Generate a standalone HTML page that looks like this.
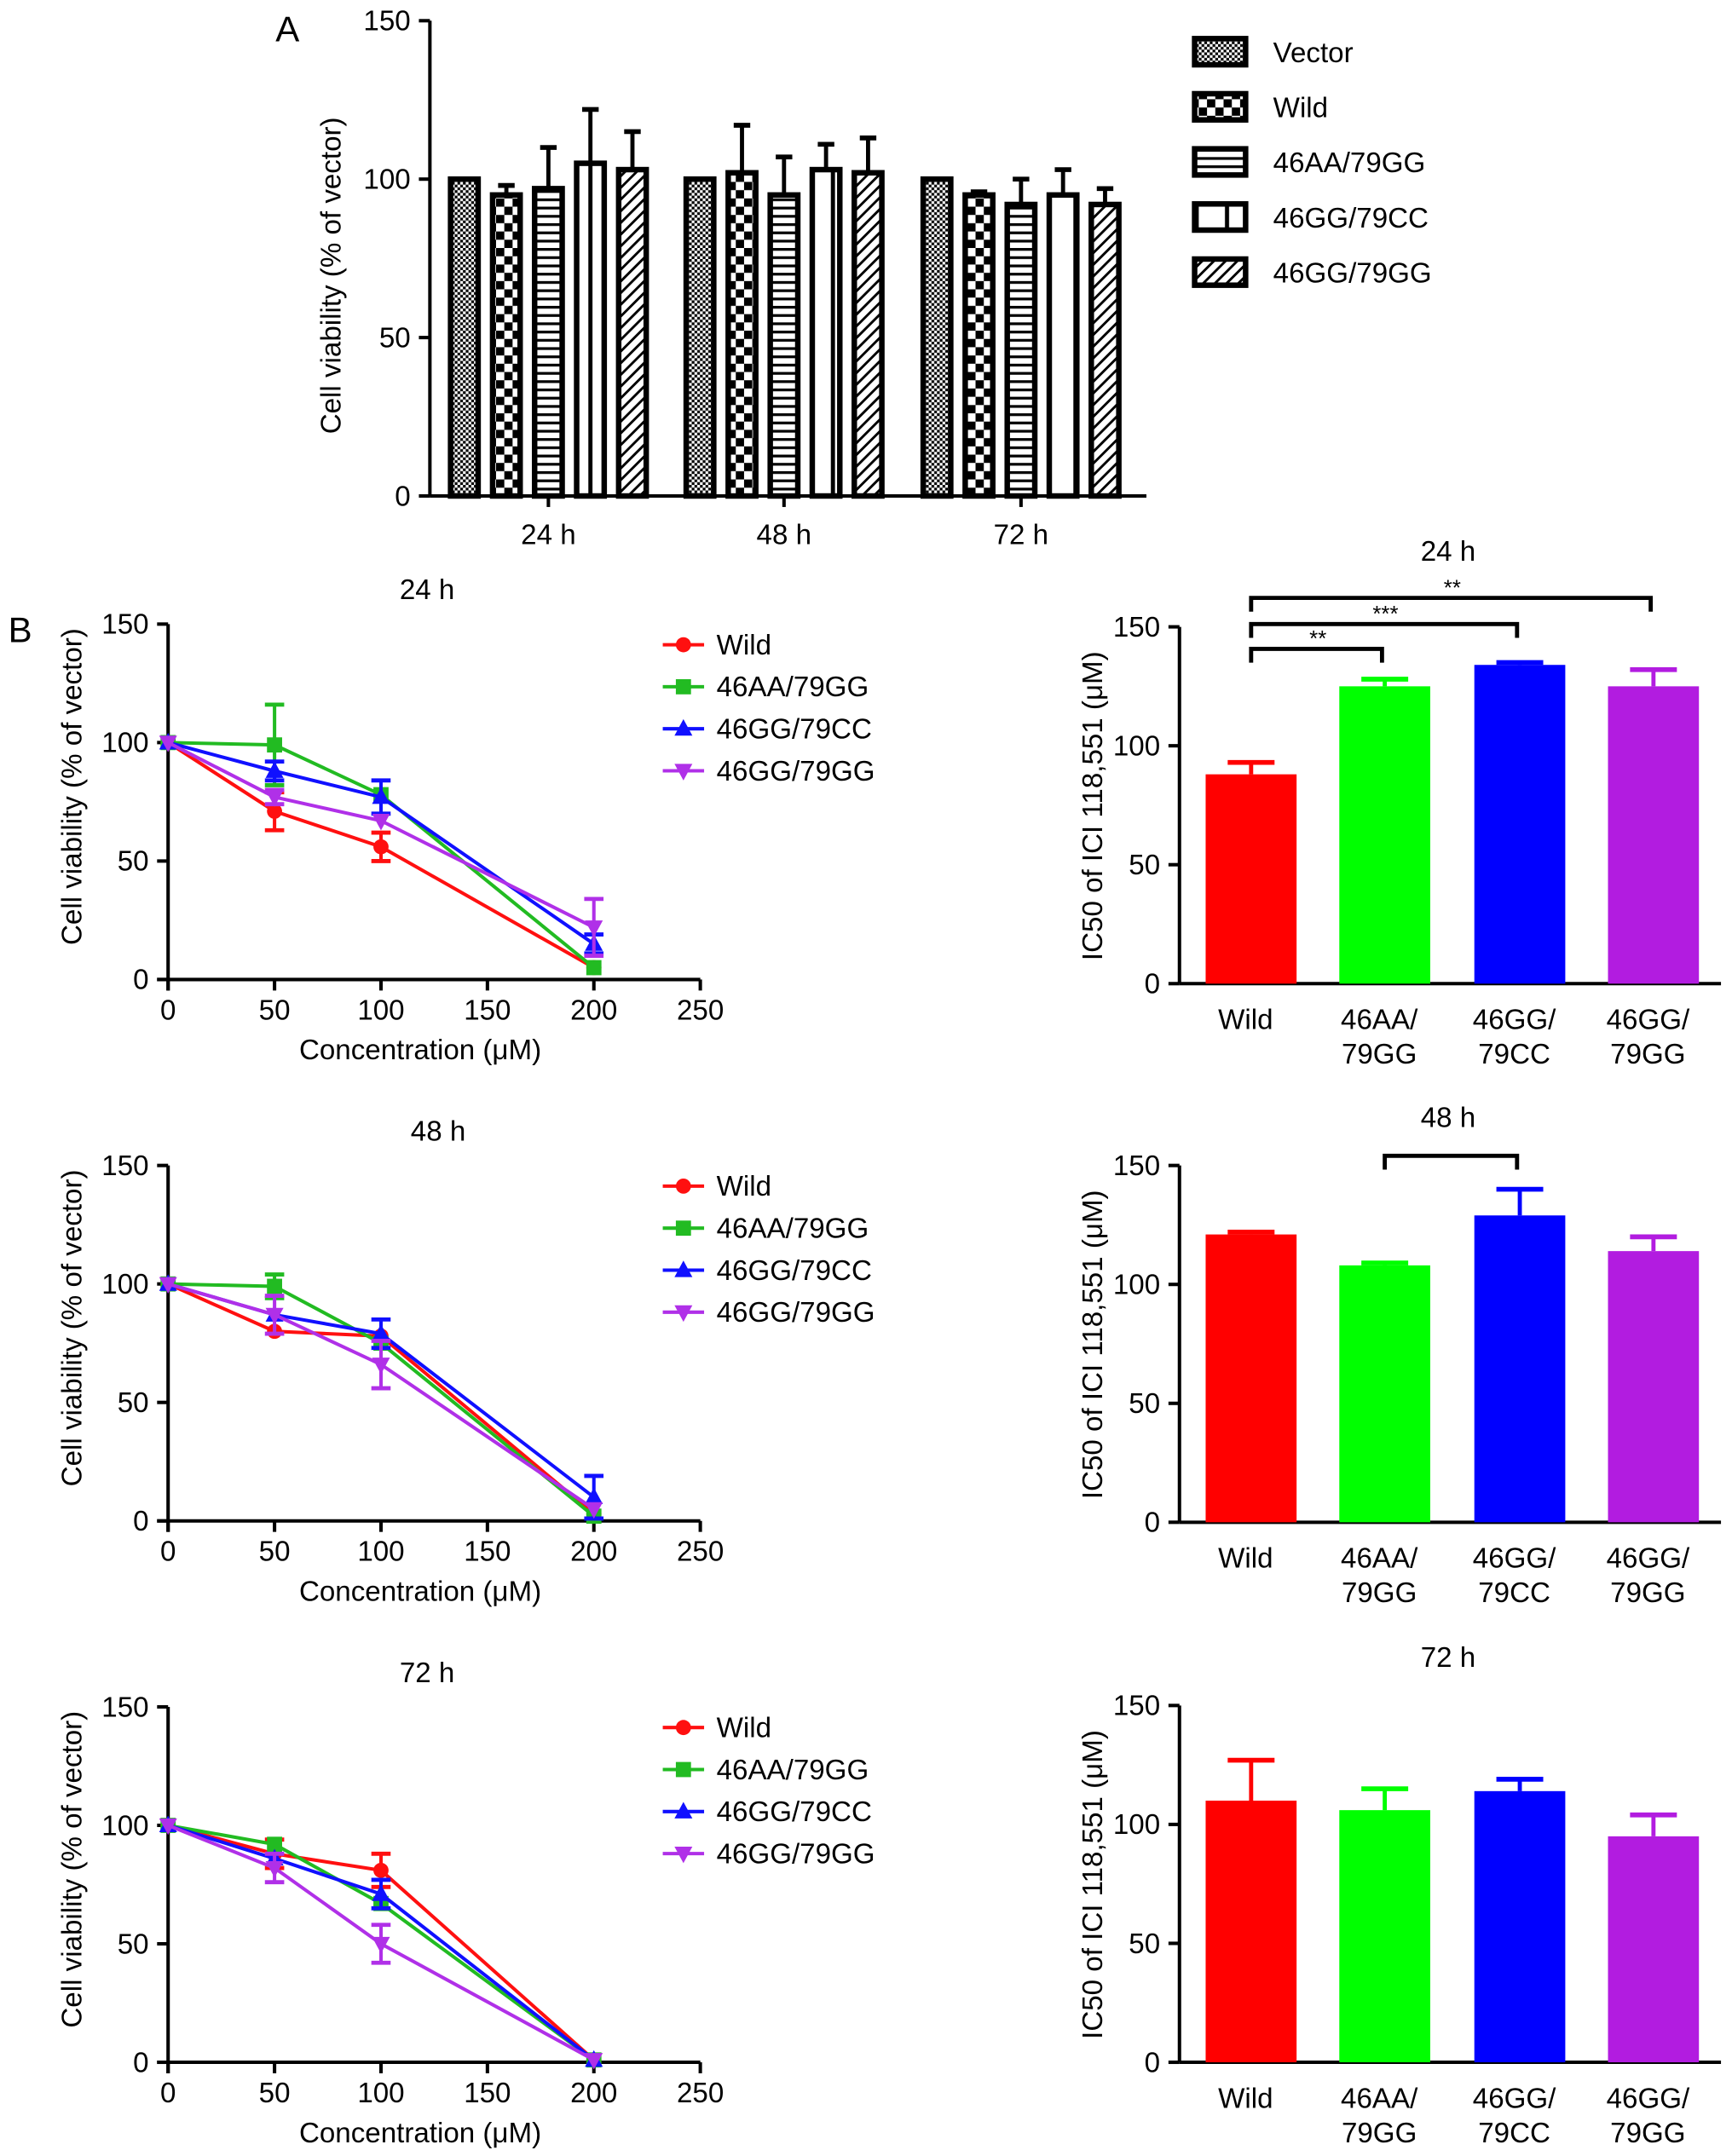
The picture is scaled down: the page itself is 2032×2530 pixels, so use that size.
<!DOCTYPE html>
<html><head><meta charset="utf-8"><style>
html,body{margin:0;padding:0;background:#fff}
svg{display:block}
text{font-family:"Liberation Sans",Arial,sans-serif;fill:#000}
</style></head><body>
<svg id="fig" width="2032" height="2530" viewBox="0 0 1257 1565" xmlns="http://www.w3.org/2000/svg">
<defs>
<pattern id="p0" width="4" height="4" patternUnits="userSpaceOnUse"><rect width="4" height="4" fill="#fff"/><rect width="2" height="2" fill="#000"/><rect x="2" y="2" width="2" height="2" fill="#000"/></pattern>
<pattern id="p1" width="12" height="12" patternUnits="userSpaceOnUse"><rect width="12" height="12" fill="#fff"/><rect x="0" y="0" width="6" height="6" fill="#000"/><rect x="6" y="6" width="6" height="6" fill="#000"/></pattern>
<pattern id="p2" width="6" height="6" patternUnits="userSpaceOnUse"><rect width="6" height="6" fill="#fff"/><rect y="0" width="6" height="2" fill="#000"/></pattern>
<pattern id="p3" width="22" height="6" patternUnits="userSpaceOnUse"><rect width="22" height="6" fill="#fff"/><rect x="9" width="3" height="6" fill="#000"/></pattern>
<pattern id="p4" width="6" height="6" patternUnits="userSpaceOnUse" patternTransform="rotate(45)"><rect width="6" height="6" fill="#fff"/><rect width="1.8" height="6" fill="#000"/></pattern>
</defs>
<g id="root"></g>
</svg>
<script>
// ---------- Panel A data ----------
const aGroups = ["24 h","48 h","72 h"];
const aSeries = ["Vector","Wild","46AA/79GG","46GG/79CC","46GG/79GG"];
const aValues = [[100,95,97,105,103],[100,102,95,103,102],[100,95,92,95,92]];
const aErrors = [[0,3,13,17,12],[0,15,12,8,11],[0,1,8,8,5]];
const aTicks = [0,50,100,150];
// ---------- Panel B line data ----------
const concs = [0,50,100,200];
const lineSeries = ["Wild","46AA/79GG","46GG/79CC","46GG/79GG"];
const lineColors = ["#ff1010","#22bb22","#1010ff","#b030e8"];
const line24 = [[100,71,56,5],[100,99,78,5],[100,88,77,15],[100,77,67,22]];
const err24 = [[0,8,6,0],[0,17,0,0],[0,4,7,4],[0,3,0,12]];
const line48 = [[100,80,78,3],[100,99,75,2],[100,87,79,10],[100,87,66,5]];
const err48 = [[0,0,0,0],[0,5,0,0],[0,0,6,9],[0,8,10,0]];
const line72 = [[100,88,81,1],[100,92,67,1],[100,86,71,1],[100,82,50,1]];
const err72 = [[0,6,7,0],[0,0,0,0],[0,0,6,0],[0,6,8,0]];
const xTicks = [0,50,100,150,200,250];
const yTicks = [0,50,100,150];
// ---------- Panel B bar data ----------
const barCats = [["Wild"],["46AA/","79GG"],["46GG/","79CC"],["46GG/","79GG"]];
const barColors = ["#ff0000","#00ff00","#0000ff","#b21ce0"];
const ic24 = [88,125,134,125];
const icErr24 = [5,3,1,7];
const ic48 = [121,108,129,114];
const icErr48 = [1,1,11,6];
const ic72 = [110,106,114,95];
const icErr72 = [17,9,5,9];

const FS=20.5;
const NS="http://www.w3.org/2000/svg";
const root=document.getElementById('root');
function el(tag,attrs,parent,txt){const e=document.createElementNS(NS,tag);for(const k in attrs)e.setAttribute(k,attrs[k]);if(txt!==undefined)e.textContent=txt;(parent||root).appendChild(e);return e;}

// ---------- Panel A ----------
(function(){
  const g=el('g',{});
  
  
  const x0=312,x1=832,yb=360,yt=15;
  const ys=v=>yb-(v/150)*(yb-yt);
  const t=el('text',{x:200,y:30,'font-size':26},g,'A');
  
  el('line',{x1:x0,y1:yt,x2:x0,y2:yb,stroke:'#000','stroke-width':2.5},g);
  el('line',{x1:x0,y1:yb,x2:x1,y2:yb,stroke:'#000','stroke-width':2.5},g);
  aTicks.forEach(v=>{
    el('line',{x1:x0-8,y1:ys(v),x2:x0,y2:ys(v),stroke:'#000','stroke-width':2.5},g);
    const tt=el('text',{x:x0-14,y:ys(v)+7,'font-size':FS,'text-anchor':'end'},g,String(v));
    
  });
  const yt2=el('text',{x:0,y:0,'font-size':FS,'text-anchor':'middle',transform:'translate(247,200) rotate(-90)'},g,'Cell viability (% of vector)');
  
  const gc=[398,569,741],sp=30.5,bw=20;
  aGroups.forEach((gn,gi)=>{
    el('line',{x1:gc[gi],y1:yb,x2:gc[gi],y2:yb+8,stroke:'#000','stroke-width':2.5},g);
    const tx=el('text',{x:gc[gi],y:395,'font-size':FS,'text-anchor':'middle'},g,gn);
    
    aValues[gi].forEach((v,si)=>{
      const cx=gc[gi]+(si-2)*sp;
      if(aErrors[gi][si]>0){
        el('line',{x1:cx,y1:ys(v),x2:cx,y2:ys(v+aErrors[gi][si]),stroke:'#000','stroke-width':3},g);
        el('line',{x1:cx-6,y1:ys(v+aErrors[gi][si]),x2:cx+6,y2:ys(v+aErrors[gi][si]),stroke:'#000','stroke-width':3.5},g);
      }
      const r=el('rect',{x:cx-bw/2,y:ys(v),width:bw,height:yb-ys(v),fill:'url(#p'+si+')',stroke:'#000','stroke-width':4},g);
      
      
    });
  });
  aSeries.forEach((s,i)=>{
    const y=38+i*40;
    const r=el('rect',{x:867,y:y-10,width:37,height:19,fill:'url(#p'+i+')',stroke:'#000','stroke-width':4},g);
    
    const tx=el('text',{x:924,y:y+7,'font-size':FS},g,s);
    
  });
})();

const bl=el('text',{x:6,y:466,'font-size':26});

bl.textContent='B';

// ---------- Line charts ----------
function marker(g,k,x,y,c){
  let m;
  if(k===0)m=el('circle',{cx:x,cy:y,r:5.5,fill:c},g);
  else if(k===1)m=el('rect',{x:x-5.5,y:y-5.5,width:11,height:11,fill:c},g);
  else if(k===2)m=el('polygon',{points:`${x},${y-7} ${x-6.5},${y+5} ${x+6.5},${y+5}`,fill:c},g);
  else m=el('polygon',{points:`${x},${y+7} ${x-6.5},${y-5} ${x+6.5},${y-5}`,fill:c},g);
  
}
function lineChart(title,ytop,vals,errs,titleX){
  const g=el('g',{});
  
  
  const x0=122,yb=ytop+258;
  const xs=v=>x0+v*1.545, ys=v=>yb-v/150*258;
  const tt=el('text',{x:titleX,y:ytop-18,'font-size':FS,'text-anchor':'middle'},g,title);
  
  el('line',{x1:x0,y1:ytop,x2:x0,y2:yb+8,stroke:'#000','stroke-width':2.5},g);
  el('line',{x1:x0-8,y1:yb,x2:xs(250),y2:yb,stroke:'#000','stroke-width':2.5},g);
  yTicks.forEach(v=>{
    el('line',{x1:x0-8,y1:ys(v),x2:x0,y2:ys(v),stroke:'#000','stroke-width':2.5},g);
    const t=el('text',{x:x0-14,y:ys(v)+7,'font-size':FS,'text-anchor':'end'},g,String(v));
    
  });
  xTicks.forEach(v=>{
    el('line',{x1:xs(v),y1:yb,x2:xs(v),y2:yb+8,stroke:'#000','stroke-width':2.5},g);
    const t=el('text',{x:xs(v),y:yb+29,'font-size':FS,'text-anchor':'middle'},g,String(v));
    
  });
  const xt=el('text',{x:305,y:yb+58,'font-size':FS,'text-anchor':'middle'},g,'Concentration (\u03bcM)');
  
  const yt=el('text',{x:0,y:0,'font-size':FS,'text-anchor':'middle',transform:`translate(59,${ytop+118}) rotate(-90)`},g,'Cell viability (% of vector)');
  
  vals.forEach((s,si)=>{
    const c=lineColors[si];
    const p=el('polyline',{points:s.map((v,i)=>xs(concs[i])+','+ys(v)).join(' '),fill:'none',stroke:c,'stroke-width':2.5},g);
    
    
    s.forEach((v,i)=>{
      const e=errs[si][i],x=xs(concs[i]);
      if(e>0){
        el('line',{x1:x,y1:ys(v-e),x2:x,y2:ys(v+e),stroke:c,'stroke-width':2.5},g);
        el('line',{x1:x-7,y1:ys(v+e),x2:x+7,y2:ys(v+e),stroke:c,'stroke-width':3},g);
        el('line',{x1:x-7,y1:ys(v-e),x2:x+7,y2:ys(v-e),stroke:c,'stroke-width':3},g);
      }
      marker(g,si,x,ys(v),c);
    });
  });
  lineSeries.forEach((s,i)=>{
    const y=ytop+15+i*30.5;
    el('line',{x1:481,y1:y,x2:511,y2:y,stroke:lineColors[i],'stroke-width':2.5},g);
    marker(g,i,496,y,lineColors[i]);
    const t=el('text',{x:520,y:y+7,'font-size':FS},g,s);
    
  });
}
lineChart('24 h',453,line24,err24,310);
lineChart('48 h',846,line48,err48,318);
lineChart('72 h',1239,line72,err72,310);

// ---------- Bar charts ----------
function barChart(title,ytop,vals,errs,brackets){
  const g=el('g',{});
  
  
  const x0=856,yb=ytop+259;
  const ys=v=>yb-v/150*259;
  const cx=[908,1005,1103,1200],bw=66;
  const tt=el('text',{x:1051,y:title==='24 h'?407:ytop-28,'font-size':FS,'text-anchor':'middle'},g,title);
  
  el('line',{x1:x0,y1:ytop,x2:x0,y2:yb,stroke:'#000','stroke-width':2.5},g);
  el('line',{x1:x0,y1:yb,x2:1249,y2:yb,stroke:'#000','stroke-width':2.5},g);
  yTicks.forEach(v=>{
    el('line',{x1:x0-8,y1:ys(v),x2:x0,y2:ys(v),stroke:'#000','stroke-width':2.5},g);
    const t=el('text',{x:x0-14,y:ys(v)+7,'font-size':FS,'text-anchor':'end'},g,String(v));
    
  });
  const yt=el('text',{x:0,y:0,'font-size':FS,'text-anchor':'middle',transform:`translate(800,${ytop+130}) rotate(-90)`},g,'IC50 of ICI 118,551 (\u03bcM)');
  
  vals.forEach((v,i)=>{
    const c=barColors[i],e=errs[i];
    el('line',{x1:cx[i],y1:ys(v),x2:cx[i],y2:ys(v+e),stroke:c,'stroke-width':3},g);
    el('line',{x1:cx[i]-17,y1:ys(v+e),x2:cx[i]+17,y2:ys(v+e),stroke:c,'stroke-width':3.5},g);
    const r=el('rect',{x:cx[i]-bw/2,y:ys(v),width:bw,height:yb-ys(v),fill:c},g);
    
    
    barCats[i].forEach((l,j)=>{
      const t=el('text',{x:cx[i]-4,y:yb+33+j*25,'font-size':FS,'text-anchor':'middle'},g,l);
      
    });
  });
  brackets.forEach(b=>{
    const p=el('path',{d:`M${cx[b[0]]},${b[2]+10} V${b[2]} H${cx[b[1]]-2} V${b[2]+10}`,fill:'none',stroke:'#000','stroke-width':3},g);
    
    if(b[3]){const t=el('text',{x:(cx[b[0]]+cx[b[1]])/2,y:b[2]-2,'font-size':16,'text-anchor':'middle'},g,b[3]);
      }
  });
}
barChart('24 h',455,ic24,icErr24,[[0,1,471,'**'],[0,2,453,'***'],[0,3,434,'**']]);
barChart('48 h',846,ic48,icErr48,[[1,2,839,'']]);
barChart('72 h',1238,ic72,icErr72,[]);
</script>
</body></html>
